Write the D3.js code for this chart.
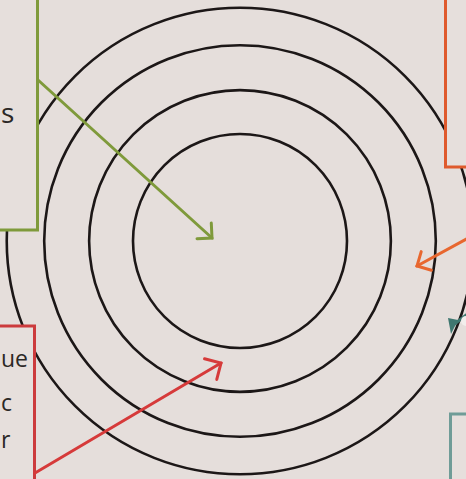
<!DOCTYPE html>
<html><head><meta charset="utf-8">
<script src="https://cdn.jsdelivr.net/npm/d3@7"></script>
<style>html,body{margin:0;padding:0;background:#e5dedb;overflow:hidden}</style>
</head><body>
<svg id="c" width="466" height="479"></svg>
<script>
// ring values (relative to inner ring)
const rings = [1, 1.41, 1.83, 2.18];
// box labels (cut at the picture edge)
const greenLabels = ["s"];
const redLabels = ["ue", "c", "r"];

const W = 466, H = 479;
const svg = d3.select("#c");
const rScale = d3.scaleLinear().domain([0, 1]).range([0, 107]);
const cx = 240, cy = 241;

svg.append("rect").attr("width", W).attr("height", H).attr("fill", "#e5dedb");

svg.append("g").selectAll("circle").data(rings).join("circle")
  .attr("cx", cx).attr("cy", cy).attr("r", d => rScale(d))
  .attr("fill", "none").attr("stroke", "#1c1717").attr("stroke-width", 2.6);

const boxes = [
  {x0: -10, y0: -10, x1: 37.5, y1: 230, c: "#7f9a3b"},
  {x0: -10, y0: 326, x1: 34.5, y1: 495, c: "#cc3b3d"},
  {x0: 445.5, y0: -10, x1: 480, y1: 167, c: "#df5a2d"},
  {x0: 450.5, y0: 414, x1: 480, y1: 495, c: "#6f9c97"}
];
svg.append("g").selectAll("rect").data(boxes).join("rect")
  .attr("x", d => d.x0).attr("y", d => d.y0)
  .attr("width", d => d.x1 - d.x0).attr("height", d => d.y1 - d.y0)
  .attr("fill", "#e6dfdc").attr("stroke", d => d.c).attr("stroke-width", 3);

function arrow(x0, y0, x1, y1, col, len) {
  const g = svg.append("g").attr("stroke", col).attr("stroke-width", 3)
    .attr("fill", "none").attr("stroke-linecap", "round").attr("stroke-linejoin", "miter");
  g.append("line").attr("x1", x0).attr("y1", y0).attr("x2", x1).attr("y2", y1);
  const a = Math.atan2(y0 - y1, x0 - x1);
  const p = [a + Math.PI / 4, a - Math.PI / 4].map(t => [x1 + len * Math.cos(t), y1 + len * Math.sin(t)]);
  g.append("path").attr("d", `M${p[0][0]},${p[0][1]}L${x1},${y1}L${p[1][0]},${p[1][1]}`);
}
arrow(38, 80, 212, 238, "#7f9a3b", 15);
arrow(35, 473, 221, 363, "#d63a3a", 17);
arrow(470, 237, 417, 266, "#e8672f", 15);

// teal pointer on the right
svg.append("line").attr("x1", 452).attr("y1", 326).attr("x2", 470).attr("y2", 312)
  .attr("stroke", "#3f7770").attr("stroke-width", 3);
svg.append("path").attr("d", "M448,318L458,320L451,334Z").attr("fill", "#3f7770");
svg.append("circle").attr("cx", 466).attr("cy", 321).attr("r", 5).attr("fill", "#f2eeec");

const tf = "'Open Sans', 'DejaVu Sans', sans-serif";
svg.append("g").selectAll("text").data(greenLabels).join("text")
  .attr("x", 1).attr("y", 123).text(d => d)
  .attr("font-family", tf).attr("font-size", 28).attr("fill", "#2b2826");
const redY = [367, 411, 448];
svg.append("g").selectAll("text").data(redLabels).join("text")
  .attr("x", 1).attr("y", (d, i) => redY[i]).text(d => d)
  .attr("font-family", tf).attr("font-size", 23).attr("fill", "#2b2826");
</script>
</body></html>
